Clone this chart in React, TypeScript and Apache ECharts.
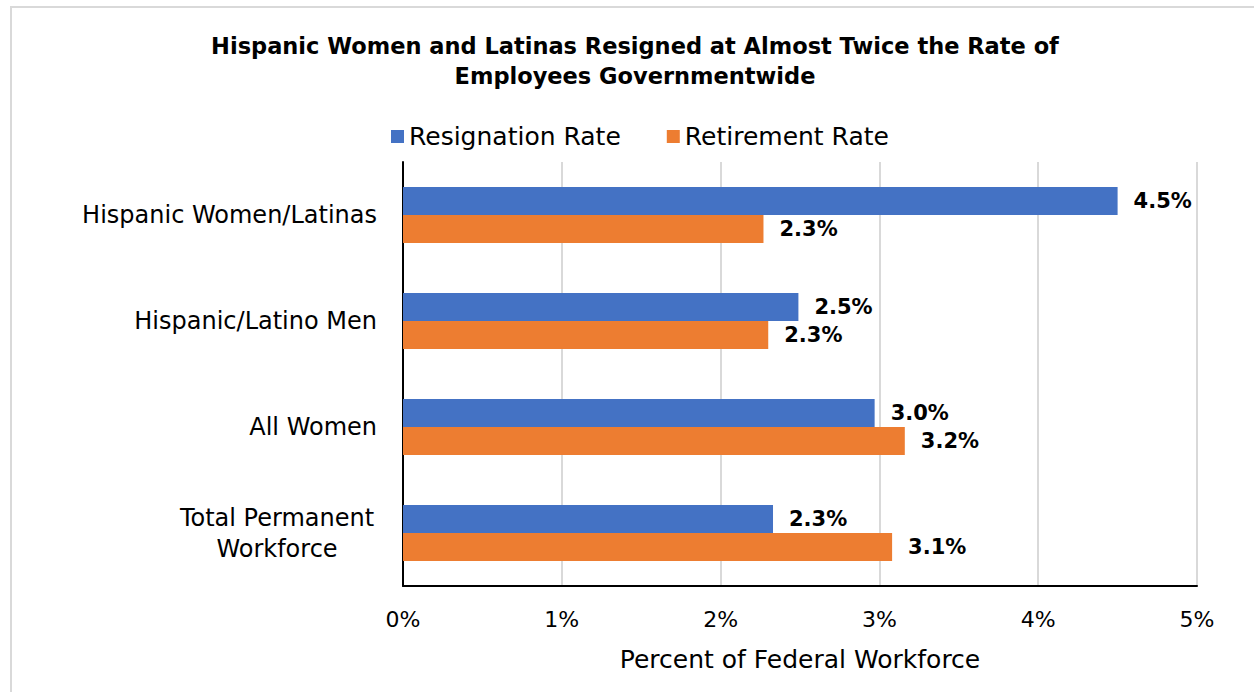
import React, { useEffect, useRef } from "react";
import * as echarts from "echarts";

const categories = [
  "Hispanic Women/Latinas",
  "Hispanic/Latino Men",
  "All Women",
  "Total Permanent\nWorkforce",
];
const resignationRate = [4.5, 2.49, 2.97, 2.33];
const retirementRate = [2.27, 2.3, 3.16, 3.08];
const seriesNames = ["Resignation Rate", "Retirement Rate"];
const titleText =
  "Hispanic Women and Latinas Resigned at Almost Twice the Rate of\nEmployees Governmentwide";
const axisTitle = "Percent of Federal Workforce";

const FONT = "'DejaVu Sans', sans-serif";

export default function App() {
  const ref = useRef<HTMLDivElement>(null);
  useEffect(() => {
    document.body.style.margin = "0";
    if (!ref.current) return;
    const chart = echarts.init(ref.current, undefined, { renderer: "svg" });
    const labelStyle = {
      show: true,
      position: "right" as const,
      distance: 16,
      fontFamily: FONT,
      fontWeight: "bold" as const,
      fontSize: 21,
      color: "#000",
      formatter: (p: any) => `${Number(p.value).toFixed(1)}%`,
    };
    chart.setOption({
      animation: false,
      backgroundColor: "#fff",
      textStyle: { fontFamily: FONT },
      graphic: [
        {
          type: "rect",
          z: -10,
          shape: { x: 11, y: 7, width: 1262, height: 700 },
          style: { fill: "none", stroke: "#d9d9d9", lineWidth: 2 },
        },
        {
          type: "text",
          x: 635,
          y: 31,
          style: {
            text: titleText,
            textAlign: "center",
            fontFamily: FONT,
            fontWeight: "bold",
            fontSize: 22.5,
            lineHeight: 30,
            fill: "#000",
          },
        },
      ],
      legend: {
        data: seriesNames,
        left: 386,
        top: 119,
        itemWidth: 13,
        itemHeight: 13,
        itemGap: 46,
        icon: "rect",
        textStyle: { fontFamily: FONT, fontSize: 25, color: "#000", padding: [0, 0, 0, 0] },
      },
      grid: { left: 403, right: 57, top: 162, bottom: 106 },
      xAxis: {
        type: "value",
        min: 0,
        max: 5,
        interval: 1,
        axisLine: { show: true, lineStyle: { color: "#000", width: 2 } },
        axisTick: { show: false },
        axisLabel: {
          formatter: (v: number) => `${v}%`,
          fontFamily: FONT,
          fontSize: 22,
          color: "#000",
          margin: 22,
        },
        splitLine: { show: true, lineStyle: { color: "#d9d9d9", width: 2 } },
        name: axisTitle,
        nameLocation: "middle",
        nameGap: 61,
        nameTextStyle: { fontFamily: FONT, fontSize: 25, color: "#000" },
      },
      yAxis: {
        type: "category",
        inverse: true,
        data: categories,
        axisLine: { show: true, lineStyle: { color: "#000", width: 2 } },
        axisTick: { show: false },
        axisLabel: {
          fontFamily: FONT,
          fontSize: 24,
          color: "#000",
          margin: 26,
          formatter: (v: string) =>
            v.includes("\n")
              ? v
                  .split("\n")
                  .map((l) => `{m|${l}}`)
                  .join("\n")
              : v,
          rich: {
            m: {
              width: 200,
              align: "center",
              fontFamily: FONT,
              fontSize: 24,
              lineHeight: 31,
              color: "#000",
            },
          },
        },
      },
      series: [
        {
          name: seriesNames[0],
          type: "bar",
          data: resignationRate,
          itemStyle: { color: "#4472C4" },
          barWidth: 28,
          barGap: "0%",
          label: labelStyle,
        },
        {
          name: seriesNames[1],
          type: "bar",
          data: retirementRate,
          itemStyle: { color: "#ED7D31" },
          barWidth: 28,
          barGap: "0%",
          label: labelStyle,
        },
      ],
    });
    return () => chart.dispose();
  }, []);
  return <div ref={ref} style={{ width: 1254, height: 692 }} />;
}
